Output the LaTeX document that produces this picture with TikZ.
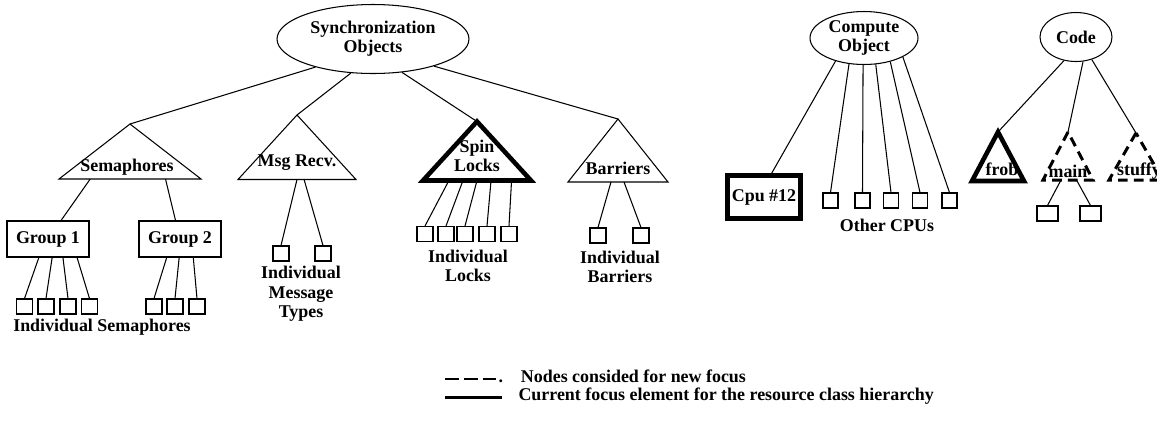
\documentclass[tikz,border=0pt]{standalone}
\usepackage{fontspec}
\setmainfont{Liberation Serif}
\usetikzlibrary{shapes,calc}

\begin{document}
\begin{tikzpicture}[x=0.02cm, y=-0.02cm, line width=0.6pt,
    every node/.style={font=\fontsize{10.2}{11}\selectfont\bfseries, inner sep=0pt, align=center},
    obj/.style={draw, ellipse},
    leaf/.style={draw, rectangle, minimum width=0.32cm, minimum height=0.3cm},
    focus/.style={line width=2.6pt},
    cand/.style={line width=1.7pt, dash pattern=on 5.5pt off 3.5pt}]

  \useasboundingbox (0,0) rectangle (1157,427);

  % Roots
  \node[obj, minimum width=3.84cm, minimum height=1.38cm] (sync) at (373,39) {Synchronization\\Objects};
  \node[obj, minimum width=2.16cm, minimum height=1.06cm] (compute) at (864,38) {Compute\\Object};
  \node[obj, minimum width=1.44cm, minimum height=0.98cm] (code) at (1076,37) {Code};

  % Synchronization classes
  \coordinate (sem) at (130,124);
  \draw (sem) -- ++(-71,55) coordinate (sem-l) -- ++(142,0) coordinate (sem-r) -- cycle;
  \node (semtxt) at (127,167) {Semaphores};

  \coordinate (msg) at (297,115);
  \draw (msg) -- ++(-59,64.5) coordinate (msg-l) -- ++(118,0) coordinate (msg-r) -- cycle;
  \node (msgtxt) at (297,163) {Msg Recv.};

  \coordinate (spin) at (477,121.5);
  \draw[focus] (spin) -- ++(-54,59) coordinate (spin-l) -- ++(108,0) coordinate (spin-r) -- cycle;
  \node (spintxt) at (477,156) {Spin\\Locks};

  \coordinate (bar) at (618,119);
  \draw (bar) -- ++(-50,63) coordinate (bar-l) -- ++(100,0) coordinate (bar-r) -- cycle;
  \node (bartxt) at (618,168) {Barriers};

  \draw (sync.206) -- (sem);
  \draw (sync.237) -- (msg);
  \draw (sync.311) -- (spin);
  \draw (sync.336) -- (bar);

  % Semaphore groups
  \node[draw, minimum width=1.64cm, minimum height=0.72cm] (group1) at (48,239) {Group 1};
  \node[draw, minimum width=1.64cm, minimum height=0.72cm] (group2) at (180,239) {Group 2};
  \draw ($(sem-l)!.22!(sem-r)$) -- (group1);
  \draw ($(sem-l)!.75!(sem-r)$) -- (group2);

  \foreach \i/\x/\f in {1/24.5/.39, 2/46/.55, 3/68/.68, 4/89.5/.85}{
    \node[leaf] (gA\i) at (\x,306.5) {};
    \draw ($(group1.south west)!\f!(group1.south east)$) -- (gA\i.north);
  }
  \foreach \i/\x/\f in {1/154/.34, 2/175/.49, 3/197/.66}{
    \node[leaf] (gB\i) at (\x,306.5) {};
    \draw ($(group2.south west)!\f!(group2.south east)$) -- (gB\i.north);
  }
  \node (semlbl) at (102,327) {Individual Semaphores};

  % Message types
  \foreach \i/\x/\f in {1/281/.5, 2/323/.56}{
    \node[leaf] (mt\i) at (\x,253.5) {};
    \draw ($(msg-l)!\f!(msg-r)$) -- (mt\i.north);
  }
  \node (msglbl) at (301,294) {Individual\\Message\\Types};

  % Locks
  \foreach \i/\x/\f in {1/425/.24, 2/446/.37, 3/465/.5, 4/487/.63, 5/509/.82}{
    \node[leaf] (lk\i) at (\x,234) {};
    \draw ($(spin-l)!\f!(spin-r)$) -- (lk\i.north);
  }
  \node (lklbl) at (468,266) {Individual\\Locks};

  % Barriers
  \foreach \i/\x/\f in {1/598/.43, 2/641/.56}{
    \node[leaf] (br\i) at (\x,235.5) {};
    \draw ($(bar-l)!\f!(bar-r)$) -- (br\i.north);
  }
  \node (brlbl) at (620,267) {Individual\\Barriers};

  % CPUs
  \node[draw, focus, minimum width=1.47cm, minimum height=0.87cm] (cpu) at (764,197) {Cpu \#12};
  \draw (compute.219) -- (cpu.72);
  \foreach \i/\x/\a in {1/830.5/240, 2/862.5/268, 3/891/294, 4/920/318, 5/949.5/334}{
    \node[leaf, minimum width=0.3cm] (cp\i) at (\x,200.5) {};
    \draw (compute.\a) -- (cp\i.north);
  }
  \node (cplbl) at (887,225) {Other CPUs};

  % Code
  \coordinate (frob) at (998,132);
  \draw[focus] (frob) -- ++(-26,49) coordinate (frob-l) -- ++(52,0) coordinate (frob-r) -- cycle;
  \node (frobtxt) at (1002,169) {frob};

  \coordinate (main) at (1068,132);
  \draw[cand] (main) -- ++(-25,48) coordinate (main-l) -- ++(50,0) coordinate (main-r) -- cycle;
  \node (maintxt) at (1068,171) {main};

  \coordinate (stuffy) at (1136,133);
  \draw[cand] (stuffy) -- ++(-27,47) coordinate (stuffy-l) -- ++(54,0) coordinate (stuffy-r) -- cycle;
  \node (stuffytxt) at (1139,171) {stuffy};

  \draw (code.243) -- (frob);
  \draw (code.286) -- (main);
  \draw (code.305) -- (stuffy);

  \foreach \i/\x/\f in {1/1047.5/.36, 2/1090.5/.67}{
    \node[leaf, minimum width=0.42cm] (mn\i) at (\x,213.5) {};
    \draw ($(main-l)!\f!(main-r)$) -- (mn\i.north);
  }

  % Legend
  \coordinate (dashA) at (445,379);
  \coordinate (dashB) at (497,379);
  \draw[line width=1.3pt, dash pattern=on 7.9pt off 2.8pt] (dashA) -- (dashB);
  \node[anchor=west] (candtxt) at (498,376) {.\quad Nodes consided for new focus};

  \coordinate (solA) at (445,397);
  \coordinate (solB) at (502,397);
  \draw[line width=1.7pt] (solA) -- (solB);
  \node[anchor=west] (focustxt) at (518,396) {Current focus element for the resource class hierarchy};
\end{tikzpicture}
\end{document}
